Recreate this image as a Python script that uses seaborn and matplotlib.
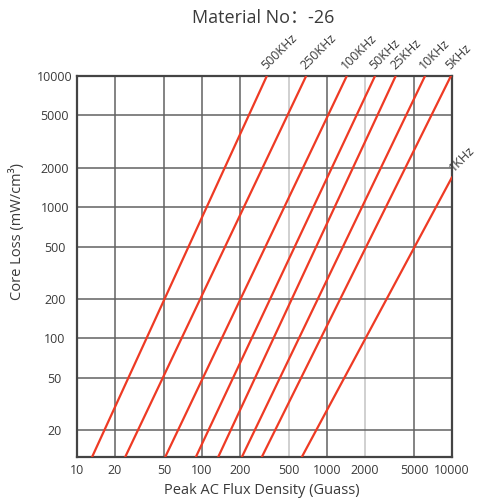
import pandas as pd
import matplotlib
matplotlib.use("Agg")
import matplotlib.pyplot as plt
import seaborn as sns

# values (log-log core loss curves)
freqs = ["500KHz", "250KHz", "100KHz", "50KHz", "25KHz", "10KHz", "5KHz", "1KHz"]
flux_start = [13.2, 24.3, 50.8, 89.3, 134.8, 208.5, 301, 629]
loss_start = [12.4, 12.4, 12.4, 12.4, 12.4, 12.4, 12.4, 12.4]
flux_end = [330, 681, 1439, 2421, 3545, 6081, 9800, 10000]
loss_end = [10000, 10000, 10000, 10000, 10000, 10000, 10000, 1690]

x_ticks = [10, 20, 50, 100, 200, 500, 1000, 2000, 5000, 10000]
y_ticks = [20, 50, 100, 200, 500, 1000, 2000, 5000, 10000]

rows = []
for f, x0, y0, x1, y1 in zip(freqs, flux_start, loss_start, flux_end, loss_end):
    rows.append({"freq": f, "flux": x0, "loss": y0})
    rows.append({"freq": f, "flux": x1, "loss": y1})
df = pd.DataFrame(rows)

sns.set_style("white")
plt.rcParams["font.family"] = ["Open Sans", "Noto Sans CJK SC", "DejaVu Sans"]
txt = "#3a3a3a"
red = "#ee3a24"

fig = plt.figure(figsize=(4.79, 5.01), dpi=100)
ax = fig.add_axes([77 / 479, 1 - 457 / 501, 375 / 479, 381 / 501])

sns.lineplot(data=df, x="flux", y="loss", hue="freq", palette=[red] * len(freqs),
             legend=False, sort=False, lw=1.6, ax=ax, zorder=3)

ax.set_xscale("log")
ax.set_yscale("log")
ax.set_xlim(10, 10000)
ax.set_ylim(12.4, 10000)
ax.minorticks_off()
ax.set_xticks(x_ticks)
ax.set_xticklabels([str(v) for v in x_ticks])
ax.set_yticks(y_ticks)
ax.set_yticklabels([str(v) for v in y_ticks])
ax.tick_params(length=0, labelsize=9, labelcolor=txt)
ax.tick_params(axis="x", pad=5)
ax.tick_params(axis="y", pad=16)
for lab in ax.get_yticklabels():
    lab.set_ha("center")

ax.grid(True, color="#626262", lw=1.1)
for v, gl in zip(x_ticks, ax.get_xgridlines()):
    if v in (500, 2000):
        gl.set_color("#c4c4c4")
for s in ax.spines.values():
    s.set_color("#444444")
    s.set_linewidth(1.6)
ax.set_xlabel("")
ax.set_ylabel("")

# frequency labels at the end of each line
for f, x1, y1 in zip(freqs, flux_end, loss_end):
    off = (3, 2) if y1 < 10000 else (1, 3)
    ax.annotate(f, (x1, y1), xytext=off, textcoords="offset points",
                rotation=45, rotation_mode="anchor", ha="left", va="bottom",
                fontsize=9, color=txt, annotation_clip=False)

fig.text(263 / 479, 1 - 18 / 501, "Material No：-26", ha="center", va="center",
         fontsize=13, color=txt)
fig.text(262 / 479, 1 - 491 / 501, "Peak AC Flux Density (Guass)", ha="center",
         va="center", fontsize=10.5, color=txt)
fig.text(17 / 479, 1 - 232 / 501, "Core Loss (mW/cm³)", ha="center", va="center",
         rotation=90, fontsize=10.5, color=txt)

fig.savefig("out.png", dpi=100)
